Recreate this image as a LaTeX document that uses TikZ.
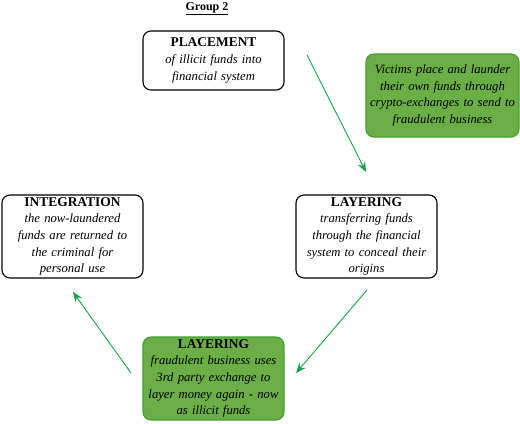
\documentclass[tikz,border=0pt]{standalone}
\usepackage{fontspec}
\setmainfont{Liberation Serif}
\usepackage{tikz}
\usetikzlibrary{arrows.meta,shapes,positioning}
\definecolor{boxgreen}{HTML}{6AAE45}
\definecolor{edgegreen}{HTML}{3FA22E}
\definecolor{arrowgreen}{HTML}{16A14C}
\tikzset{
  basic/.style  = {draw, rectangle, rounded corners=8pt, line width=1.1pt, align=center,
                   font=\fontsize{12.7}{16.7}\selectfont\itshape, inner sep=2pt},
  stage/.style  = {basic, minimum width=141bp, minimum height=83bp, text width=134bp},
  green/.style  = {fill=boxgreen, draw=edgegreen},
  flow/.style   = {draw=arrowgreen, line width=0.9pt, -{Stealth[length=10pt,width=8pt]}}
}
\newcommand{\stagename}[1]{{\upshape\bfseries\fontsize{13.5}{16.7}\selectfont #1}}

\begin{document}
\begin{tikzpicture}[x=1bp,y=-1bp]
\useasboundingbox (0,0) rectangle (520,423);
\node (group) at (207,9) {\bfseries\fontsize{12}{14}\selectfont\underline{Group 2}};
\node[stage, minimum height=59bp] (place) at (213.5,60.5)
  {\stagename{PLACEMENT}\\ of illicit funds into\\ financial system};
\node[stage, green, minimum width=153bp, text width=146bp] (victims) at (442.5,95.5)
  {Victims place and launder\\ their own funds through\\ crypto-exchanges to send to\\ fraudulent business};
\node[stage] (layer1) at (366.5,236.5)
  {\stagename{LAYERING}\\ transferring funds\\ through the financial\\ system to conceal their\\ origins};
\node[stage, green] (layer2) at (213.5,378.5)
  {\stagename{LAYERING}\\ fraudulent business uses\\ 3rd party exchange to\\ layer money again - now\\ as illicit funds};
\node[stage] (integ) at (72.5,236.5)
  {\stagename{INTEGRATION}\\ the now-laundered\\ funds are returned to\\ the criminal for\\ personal use};
% cycle arrows, free ends off the boxes
\coordinate (a1) at (307,55);
\coordinate (b1) at (366,172);
\coordinate (a2) at (367,290);
\coordinate (b2) at (296,373);
\coordinate (a3) at (131,373);
\coordinate (b3) at (73,292);
\draw[flow] (a1) -- (b1);
\draw[flow] (a2) -- (b2);
\draw[flow] (a3) -- (b3);
\end{tikzpicture}
\end{document}
